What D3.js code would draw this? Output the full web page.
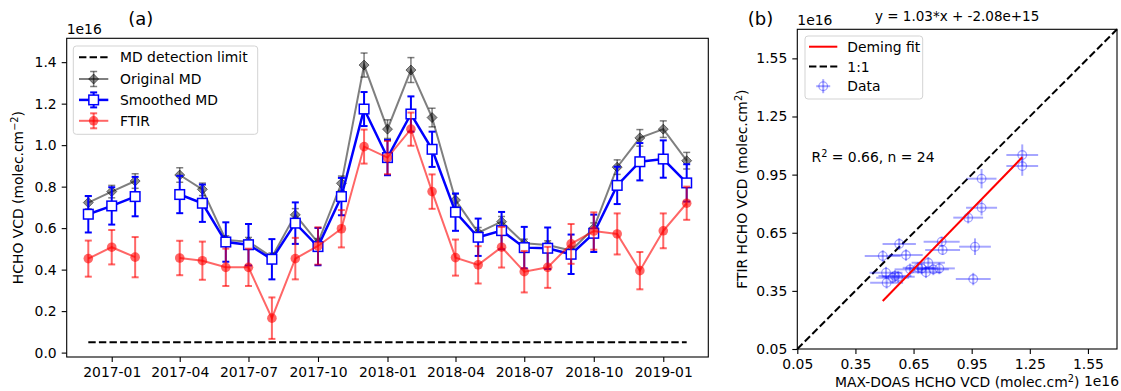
<!DOCTYPE html>
<html>
<head>
<meta charset="utf-8">
<script src="https://cdn.jsdelivr.net/npm/d3@7"></script>
<style>
  body { margin: 0; background: #fff; }
  svg { display: block; }
  text { font-family: "DejaVu Sans", sans-serif; fill: #000; }
</style>
</head>
<body>
<svg id="chart" width="1121" height="391"></svg>
<script>
// Monthly mean HCHO vertical column densities, in units of 1e16 molec/cm2
const months = ["2016-12","2017-01","2017-02","2017-04","2017-05","2017-06","2017-07","2017-08",
  "2017-09","2017-10","2017-11","2017-12","2018-01","2018-02","2018-03","2018-04","2018-05",
  "2018-06","2018-07","2018-08","2018-09","2018-10","2018-11","2018-12","2019-01","2019-02"];
const originalMD = [0.723,0.776,0.827,0.856,0.787,0.543,0.535,0.460,0.664,0.530,0.816,1.386,1.077,
  1.362,1.133,0.735,0.578,0.631,0.527,0.519,0.492,0.600,0.894,1.035,1.077,0.925];
const originalMDErr = [0.030,0.030,0.035,0.035,0.030,0.020,0.020,0.020,0.030,0.020,0.035,0.058,0.045,
  0.060,0.045,0.030,0.025,0.025,0.020,0.020,0.020,0.025,0.035,0.040,0.040,0.040];
const smoothedMD = [0.667,0.707,0.752,0.762,0.720,0.533,0.520,0.450,0.624,0.511,0.752,1.174,0.940,
  1.150,0.980,0.677,0.556,0.588,0.506,0.503,0.474,0.575,0.806,0.920,0.933,0.818];
const smoothedMDErr = [0.088,0.090,0.095,0.090,0.090,0.095,0.100,0.097,0.100,0.090,0.090,0.082,0.085,
  0.085,0.085,0.090,0.090,0.090,0.100,0.100,0.095,0.090,0.090,0.090,0.090,0.090];
const ftir = [0.453,0.508,0.460,0.456,0.443,0.411,0.411,0.166,0.453,0.514,0.597,0.993,0.940,
  1.077,0.776,0.458,0.423,0.508,0.390,0.411,0.524,0.586,0.572,0.395,0.587,0.720];
const ftirErr = [0.087,0.083,0.097,0.083,0.092,0.090,0.090,0.100,0.100,0.090,0.090,0.082,0.080,
  0.080,0.083,0.087,0.090,0.098,0.100,0.099,0.096,0.090,0.099,0.090,0.084,0.080];
const detectionLimit = 0.05;
const timeTicks = ["2017-01","2017-04","2017-07","2017-10","2018-01","2018-04","2018-07","2018-10","2019-01"];
const vcdTicks = [0.0,0.2,0.4,0.6,0.8,1.0,1.2,1.4];

// Coincident MAX-DOAS / FTIR monthly pairs
const scatterMD = [1.211,1.211,1.001,1.001,0.932,0.967,0.958,0.795,0.800,0.576,0.491,0.611,
  0.726,0.632,0.674,0.692,0.714,0.752,0.783,0.508,0.571,0.542,0.554,0.511];
const scatterFTIR = [1.051,0.994,0.929,0.779,0.728,0.578,0.411,0.604,0.561,0.592,0.530,0.535,
  0.495,0.461,0.469,0.466,0.446,0.461,0.466,0.444,0.423,0.418,0.427,0.392];
const scatterMDErr = [0.082,0.082,0.077,0.080,0.077,0.082,0.090,0.093,0.090,0.086,0.093,0.086,
  0.086,0.080,0.080,0.080,0.080,0.080,0.080,0.085,0.085,0.085,0.085,0.085];
const scatterFTIRErr = [0.055,0.050,0.050,0.040,0.030,0.043,0.032,0.026,0.025,0.030,0.030,0.030,
  0.030,0.030,0.030,0.030,0.030,0.030,0.030,0.030,0.030,0.030,0.030,0.030];
const demingSlope = 1.03;
const demingIntercept = -0.208;
const rSquared = 0.66;
const scatterTicks = [0.05,0.35,0.65,0.95,1.25,1.55];

const svg = d3.select("#chart");
const FS = 13.9;

// ---------- Panel (a): time series ----------
const A = { left: 66.7, right: 708.3, top: 38.3, bottom: 357 };
const parseMonth = d3.utcParse("%Y-%m");
const dates = months.map(parseMonth);
const t0 = dates[0], t1 = dates[dates.length - 1];
const pad = (t1 - t0) * 0.0361;
const x = d3.scaleUtc().domain([new Date(+t0 - pad), new Date(+t1 + pad)]).range([A.left, A.right]);
const y = d3.scaleLinear().domain([-0.0212, 1.515]).range([A.bottom, A.top]);

const gA = svg.append("g");

function styleAxis(g) {
  g.select(".domain").remove();
  g.selectAll(".tick line").attr("stroke", "#000").attr("stroke-width", 1.1);
  g.selectAll(".tick text").attr("font-size", FS).attr("font-family", "DejaVu Sans").attr("fill", "#000");
}

gA.append("g").attr("transform", `translate(0,${A.bottom})`)
  .call(d3.axisBottom(x).tickValues(timeTicks.map(parseMonth)).tickFormat(d3.utcFormat("%Y-%m"))
    .tickSize(5).tickPadding(5))
  .call(styleAxis);
gA.append("g").attr("transform", `translate(${A.left},0)`)
  .call(d3.axisLeft(y).tickValues(vcdTicks).tickFormat(d3.format(".1f")).tickSize(5).tickPadding(5))
  .call(styleAxis);

// detection limit
gA.append("line")
  .attr("x1", x(t0)).attr("x2", x(t1)).attr("y1", y(detectionLimit)).attr("y2", y(detectionLimit))
  .attr("stroke", "#000").attr("stroke-width", 2).attr("stroke-dasharray", "7.4,3.2");

function vErrBars(g, xs, ys, errs, color, opacity, width, cap) {
  xs.forEach((xv, i) => {
    const cx = x(xv), lo = y(ys[i] - errs[i]), hi = y(ys[i] + errs[i]);
    g.append("line").attr("x1", cx).attr("x2", cx).attr("y1", lo).attr("y2", hi)
      .attr("stroke", color).attr("stroke-width", width).attr("stroke-opacity", opacity);
    [lo, hi].forEach(yy => g.append("line").attr("x1", cx - cap).attr("x2", cx + cap)
      .attr("y1", yy).attr("y2", yy).attr("stroke", color).attr("stroke-width", width)
      .attr("stroke-opacity", opacity));
  });
}

// one path per run of consecutive months, broken where a month is missing
function seriesPath(vals) {
  const segs = [];
  let cur = [];
  vals.forEach((v, i) => {
    if (i > 0 && (dates[i] - dates[i - 1]) > 40 * 864e5) { segs.push(cur); cur = []; }
    cur.push([x(dates[i]), y(v)]);
  });
  segs.push(cur);
  return segs.map(s => d3.line()(s)).join("");
}

// Original MD (black, semi-transparent)
const gO = gA.append("g");
vErrBars(gO, dates, originalMD, originalMDErr, "#000", 0.5, 1.5, 3.5);
gO.append("path").attr("d", seriesPath(originalMD)).attr("fill", "none")
  .attr("stroke", "#000").attr("stroke-opacity", 0.5).attr("stroke-width", 2);
const diamond = s => `M0,${-s}L${s},0L0,${s}L${-s},0Z`;
originalMD.forEach((v, i) => gO.append("path").attr("d", diamond(5))
  .attr("transform", `translate(${x(dates[i])},${y(v)})`)
  .attr("fill", "#000").attr("fill-opacity", 0.45).attr("stroke", "#000").attr("stroke-opacity", 0.5)
  .attr("stroke-width", 1));

// Smoothed MD (blue)
const gS = gA.append("g");
vErrBars(gS, dates, smoothedMD, smoothedMDErr, "#0000ff", 1, 2, 3.5);
gS.append("path").attr("d", seriesPath(smoothedMD)).attr("fill", "none")
  .attr("stroke", "#0000ff").attr("stroke-width", 2.5);
smoothedMD.forEach((v, i) => gS.append("rect")
  .attr("x", x(dates[i]) - 4.8).attr("y", y(v) - 4.8).attr("width", 9.6).attr("height", 9.6)
  .attr("fill", "#fff").attr("stroke", "#0000ff").attr("stroke-width", 1.5));

// FTIR (red, semi-transparent)
const gF = gA.append("g");
vErrBars(gF, dates, ftir, ftirErr, "#ff0000", 0.6, 2, 3.5);
gF.append("path").attr("d", seriesPath(ftir)).attr("fill", "none")
  .attr("stroke", "#ff0000").attr("stroke-opacity", 0.6).attr("stroke-width", 2);
ftir.forEach((v, i) => gF.append("circle").attr("cx", x(dates[i])).attr("cy", y(v)).attr("r", 4.8)
  .attr("fill", "#ff0000").attr("fill-opacity", 0.6));

// frame
gA.append("rect").attr("x", A.left).attr("y", A.top).attr("width", A.right - A.left)
  .attr("height", A.bottom - A.top).attr("fill", "none").attr("stroke", "#000").attr("stroke-width", 1.1);

// legend (a)
const legA = gA.append("g");
legA.append("rect").attr("x", 73.3).attr("y", 46).attr("width", 184.4).attr("height", 88.3).attr("rx", 3)
  .attr("fill", "#fff").attr("fill-opacity", 0.8).attr("stroke", "#d3d3d3").attr("stroke-width", 1);
const legRows = [57.3, 79, 99.9, 120.8];
const hx0 = 79, hx1 = 108.3, hxc = (hx0 + hx1) / 2;
legA.append("line").attr("x1", hx0).attr("x2", hx1).attr("y1", legRows[0]).attr("y2", legRows[0])
  .attr("stroke", "#000").attr("stroke-width", 2).attr("stroke-dasharray", "7.4,3.2");
function legErr(cy, color, op, w) {
  legA.append("line").attr("x1", hxc).attr("x2", hxc).attr("y1", cy - 7.5).attr("y2", cy + 7.5)
    .attr("stroke", color).attr("stroke-opacity", op).attr("stroke-width", w);
  [cy - 7.5, cy + 7.5].forEach(yy => legA.append("line").attr("x1", hxc - 3.5).attr("x2", hxc + 3.5)
    .attr("y1", yy).attr("y2", yy).attr("stroke", color).attr("stroke-opacity", op).attr("stroke-width", w));
}
legErr(legRows[1], "#000", 0.5, 1.5);
legA.append("line").attr("x1", hx0).attr("x2", hx1).attr("y1", legRows[1]).attr("y2", legRows[1])
  .attr("stroke", "#000").attr("stroke-opacity", 0.5).attr("stroke-width", 2);
legA.append("path").attr("d", diamond(5)).attr("transform", `translate(${hxc},${legRows[1]})`)
  .attr("fill", "#000").attr("fill-opacity", 0.45).attr("stroke", "#000").attr("stroke-opacity", 0.5);
legErr(legRows[2], "#0000ff", 1, 2);
legA.append("line").attr("x1", hx0).attr("x2", hx1).attr("y1", legRows[2]).attr("y2", legRows[2])
  .attr("stroke", "#0000ff").attr("stroke-width", 2.5);
legA.append("rect").attr("x", hxc - 4.8).attr("y", legRows[2] - 4.8).attr("width", 9.6).attr("height", 9.6)
  .attr("fill", "#fff").attr("stroke", "#0000ff").attr("stroke-width", 1.5);
legErr(legRows[3], "#ff0000", 0.6, 2);
legA.append("line").attr("x1", hx0).attr("x2", hx1).attr("y1", legRows[3]).attr("y2", legRows[3])
  .attr("stroke", "#ff0000").attr("stroke-opacity", 0.6).attr("stroke-width", 2);
legA.append("circle").attr("cx", hxc).attr("cy", legRows[3]).attr("r", 4.8)
  .attr("fill", "#ff0000").attr("fill-opacity", 0.6);
["MD detection limit", "Original MD", "Smoothed MD", "FTIR"].forEach((t, i) =>
  legA.append("text").attr("x", 120).attr("y", legRows[i]).attr("dy", "0.36em").attr("font-size", FS).text(t));

// titles & labels (a)
gA.append("text").attr("x", 140.8).attr("y", 25).attr("text-anchor", "middle").attr("font-size", 18).text("(a)");
gA.append("text").attr("x", A.left).attr("y", 34).attr("font-size", FS).text("1e16");
const yl = gA.append("text").attr("transform", `translate(23,${(A.top + A.bottom) / 2}) rotate(-90)`)
  .attr("text-anchor", "middle").attr("font-size", FS);
yl.append("tspan").text("HCHO VCD (molec.cm");
yl.append("tspan").attr("dy", -5.5).attr("font-size", FS * 0.7).text("\u22122");
yl.append("tspan").attr("dy", 5.5).text(")");

// ---------- Panel (b): scatter ----------
const B = { left: 797.3, right: 1117, top: 29.3, bottom: 349 };
const xs = d3.scaleLinear().domain([0.05, 1.7]).range([B.left, B.right]);
const ys = d3.scaleLinear().domain([0.05, 1.7]).range([B.bottom, B.top]);
const gB = svg.append("g");

gB.append("g").attr("transform", `translate(0,${B.bottom})`)
  .call(d3.axisBottom(xs).tickValues(scatterTicks).tickFormat(d3.format(".2f")).tickSize(5).tickPadding(5))
  .call(styleAxis);
gB.append("g").attr("transform", `translate(${B.left},0)`)
  .call(d3.axisLeft(ys).tickValues(scatterTicks).tickFormat(d3.format(".2f")).tickSize(5).tickPadding(5))
  .call(styleAxis);

// 1:1 line
gB.append("line").attr("x1", xs(0.05)).attr("y1", ys(0.05)).attr("x2", xs(1.7)).attr("y2", ys(1.7))
  .attr("stroke", "#000").attr("stroke-width", 2).attr("stroke-dasharray", "7.4,3.2");

// data points with error bars
const gD = gB.append("g");
scatterMD.forEach((mv, i) => {
  const fv = scatterFTIR[i];
  gD.append("line").attr("x1", xs(mv - scatterMDErr[i])).attr("x2", xs(mv + scatterMDErr[i]))
    .attr("y1", ys(fv)).attr("y2", ys(fv)).attr("stroke", "#0000ff").attr("stroke-opacity", 0.35).attr("stroke-width", 2);
  gD.append("line").attr("x1", xs(mv)).attr("x2", xs(mv))
    .attr("y1", ys(fv - scatterFTIRErr[i])).attr("y2", ys(fv + scatterFTIRErr[i]))
    .attr("stroke", "#0000ff").attr("stroke-opacity", 0.35).attr("stroke-width", 2);
  gD.append("circle").attr("cx", xs(mv)).attr("cy", ys(fv)).attr("r", 4.3)
    .attr("fill", "none").attr("stroke", "#0000ff").attr("stroke-opacity", 0.35).attr("stroke-width", 1.3);
});

// Deming fit over the data range
const [mdMin, mdMax] = d3.extent(scatterMD);
gB.append("line").attr("x1", xs(mdMin)).attr("y1", ys(demingSlope * mdMin + demingIntercept))
  .attr("x2", xs(mdMax)).attr("y2", ys(demingSlope * mdMax + demingIntercept))
  .attr("stroke", "#ff0000").attr("stroke-width", 2);

gB.append("rect").attr("x", B.left).attr("y", B.top).attr("width", B.right - B.left)
  .attr("height", B.bottom - B.top).attr("fill", "none").attr("stroke", "#000").attr("stroke-width", 1.1);

// legend (b)
const legB = gB.append("g");
legB.append("rect").attr("x", 805).attr("y", 36).attr("width", 117.7).attr("height", 63).attr("rx", 3)
  .attr("fill", "#fff").attr("fill-opacity", 0.8).attr("stroke", "#d3d3d3").attr("stroke-width", 1);
const rowsB = [46.7, 66.5, 86.2];
legB.append("line").attr("x1", 809).attr("x2", 837.3).attr("y1", rowsB[0]).attr("y2", rowsB[0])
  .attr("stroke", "#ff0000").attr("stroke-width", 2);
legB.append("line").attr("x1", 809).attr("x2", 837.3).attr("y1", rowsB[1]).attr("y2", rowsB[1])
  .attr("stroke", "#000").attr("stroke-width", 2).attr("stroke-dasharray", "7.4,3.2");
const lcx = 823.2;
legB.append("line").attr("x1", lcx - 7).attr("x2", lcx + 7).attr("y1", rowsB[2]).attr("y2", rowsB[2])
  .attr("stroke", "#0000ff").attr("stroke-opacity", 0.35).attr("stroke-width", 2);
legB.append("line").attr("x1", lcx).attr("x2", lcx).attr("y1", rowsB[2] - 7).attr("y2", rowsB[2] + 7)
  .attr("stroke", "#0000ff").attr("stroke-opacity", 0.35).attr("stroke-width", 2);
legB.append("circle").attr("cx", lcx).attr("cy", rowsB[2]).attr("r", 4.3).attr("fill", "none")
  .attr("stroke", "#0000ff").attr("stroke-opacity", 0.35).attr("stroke-width", 1.3);
["Deming fit", "1:1", "Data"].forEach((t, i) =>
  legB.append("text").attr("x", 847.3).attr("y", rowsB[i]).attr("dy", "0.36em").attr("font-size", FS).text(t));

// annotation, titles and labels (b)
const fitLabel = `y = ${demingSlope.toFixed(2)}*x + ${(demingIntercept * 1e16).toExponential(2)}`;
gB.append("text").attr("x", (B.left + B.right) / 2).attr("y", 21).attr("text-anchor", "middle")
  .attr("font-size", 13.5).text(fitLabel);
gB.append("text").attr("x", 760.5).attr("y", 25).attr("text-anchor", "middle").attr("font-size", 18).text("(b)");
gB.append("text").attr("x", B.left).attr("y", 25).attr("font-size", FS).text("1e16");
gB.append("text").attr("x", 1119).attr("y", 386).attr("text-anchor", "end").attr("font-size", FS).text("1e16");
const r2t = gB.append("text").attr("x", 811.5).attr("y", 162).attr("font-size", FS);
r2t.append("tspan").text("R");
r2t.append("tspan").attr("dy", -5.5).attr("font-size", FS * 0.7).text("2");
r2t.append("tspan").attr("dy", 5.5).text(` = ${rSquared.toFixed(2)}, n = ${scatterMD.length}`);

const xl = gB.append("text").attr("x", (B.left + B.right) / 2).attr("y", 387).attr("text-anchor", "middle")
  .attr("font-size", FS);
xl.append("tspan").text("MAX-DOAS HCHO VCD (molec.cm");
xl.append("tspan").attr("dy", -5.5).attr("font-size", FS * 0.7).text("2");
xl.append("tspan").attr("dy", 5.5).text(")");
const ylB = gB.append("text").attr("transform", `translate(747,${(B.top + B.bottom) / 2}) rotate(-90)`)
  .attr("text-anchor", "middle").attr("font-size", FS);
ylB.append("tspan").text("FTIR HCHO VCD (molec.cm");
ylB.append("tspan").attr("dy", -5.5).attr("font-size", FS * 0.7).text("2");
ylB.append("tspan").attr("dy", 5.5).text(")");
</script>
</body>
</html>
